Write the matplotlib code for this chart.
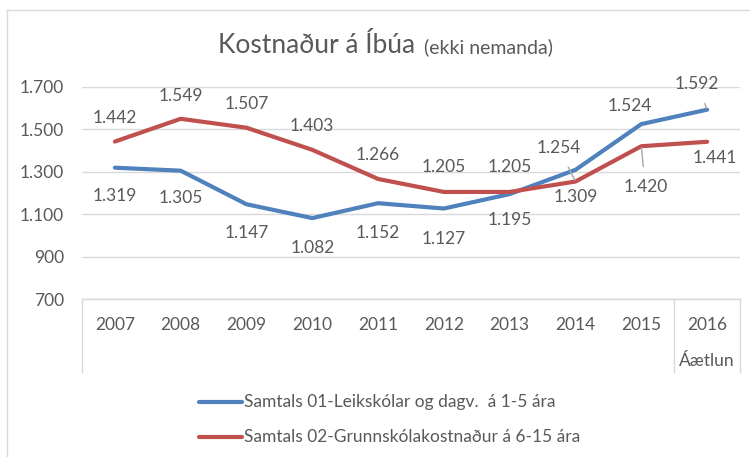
import matplotlib
matplotlib.use("Agg")
import matplotlib.pyplot as plt
from matplotlib.lines import Line2D

plt.rcParams['font.family'] = ['Lato', 'DejaVu Sans']

years = ['2007', '2008', '2009', '2010', '2011', '2012', '2013', '2014', '2015', '2016']
sub_label = 'Áætlun'
leik = [1319, 1305, 1147, 1082, 1152, 1127, 1195, 1309, 1524, 1592]
grunn = [1442, 1549, 1507, 1403, 1266, 1205, 1205, 1254, 1420, 1441]
name_leik = 'Samtals 01-Leikskólar og dagv.  á 1-5 ára'
name_grunn = 'Samtals 02-Grunnskólakostnaður á 6-15 ára'
yticks = [700, 900, 1100, 1300, 1500, 1700]

# label offsets in pixels (dx, dy) and whether a leader line is drawn
off_leik = [(0, -28), (0, -27), (0, -29), (0, -30), (0, -30), (0, -30), (0, -26), (0, -27), (-11, 18), (-10, 26)]
lead_leik = [False] * 9 + [True]
off_grunn = [(0, 24), (0, 23), (0, 24), (0, 24), (0, 24), (0, 25), (0, 25), (-17, 34), (4, -41), (8, -16)]
lead_grunn = [False] * 7 + [True, True, False]

BLUE = '#4F81BD'
RED = '#C0504D'
GREY = '#595959'
GRID = '#D9D9D9'
FS = 12.5

W, H = 750, 457
fig = plt.figure(figsize=(7.5, 4.57), dpi=100)
x0, x1 = 82, 740
ytop, ybot = 86.7, 299.3
ax = fig.add_axes([x0 / W, 1 - ybot / H, (x1 - x0) / W, (ybot - ytop) / H])

def fmt(v):
    return f"{v:,}".replace(",", ".")

xs = list(range(len(years)))
ax.plot(xs, leik, color=BLUE, lw=3, solid_capstyle='round', zorder=3)
ax.plot(xs, grunn, color=RED, lw=3, solid_capstyle='round', zorder=3)

for vals, offs, leads in [(leik, off_leik, lead_leik), (grunn, off_grunn, lead_grunn)]:
    for i, v in enumerate(vals):
        dx, dy = offs[i]
        ap = None
        if leads[i]:
            ap = dict(arrowstyle='-', color='#A6A6A6', lw=1, shrinkA=7, shrinkB=1)
        ax.annotate(fmt(v), (i, v), xytext=(dx, dy), textcoords='offset pixels',
                    ha='center', va='center', fontsize=FS, color=GREY,
                    arrowprops=ap, zorder=4)

ax.set_xlim(-0.5, len(years) - 0.5)
ax.set_ylim(700, 1700)
ax.set_yticks(yticks)
ax.set_yticklabels([fmt(t) for t in yticks], fontsize=FS, color=GREY)
ax.tick_params(axis='y', length=0, pad=13)
ax.set_xticks([])
ax.grid(axis='y', color=GRID, lw=1)
ax.set_axisbelow(True)
for s in ['top', 'right', 'left']:
    ax.spines[s].set_visible(False)
ax.spines['bottom'].set_color(GRID)
ax.spines['bottom'].set_linewidth(1)

# category labels and separators
axh = ybot - ytop
tr = ax.get_xaxis_transform()
for i, y in enumerate(years):
    ax.text(i, -(325 - ybot) / axh, y, transform=tr, ha='center', va='center',
            fontsize=FS, color=GREY)
ax.text(len(years) - 1, -(361 - ybot) / axh, sub_label, transform=tr, ha='center',
        va='center', fontsize=FS, color=GREY)
sep_bottom = -(372 - ybot) / axh
for xv in [-0.5, len(years) - 1.5, len(years) - 0.5]:
    ax.plot([xv, xv], [0, sep_bottom], transform=tr, color=GRID, lw=1, clip_on=False)

# title
fig.text(415 / W, 1 - 53 / H, 'Kostnaður á Íbúa', ha='right', va='baseline',
         fontsize=19, color=GREY)
fig.text(424 / W, 1 - 53 / H, '(ekki nemanda)', ha='left', va='baseline',
         fontsize=14, color=GREY)

# legend
for ypx, col, name in [(402, BLUE, name_leik), (437, RED, name_grunn)]:
    fig.add_artist(Line2D([199 / W, 242 / W], [1 - ypx / H, 1 - ypx / H],
                          color=col, lw=3, solid_capstyle='round'))
    fig.text(244 / W, 1 - ypx / H, name, ha='left', va='center', fontsize=FS, color=GREY)

# outer chart border
fig.add_artist(Line2D([7 / W, 7 / W], [0, 1 - 10 / H], color=GRID, lw=1))
fig.add_artist(Line2D([7 / W, 1], [1 - 10 / H, 1 - 10 / H], color=GRID, lw=1))

fig.savefig('out.png', dpi=100)
